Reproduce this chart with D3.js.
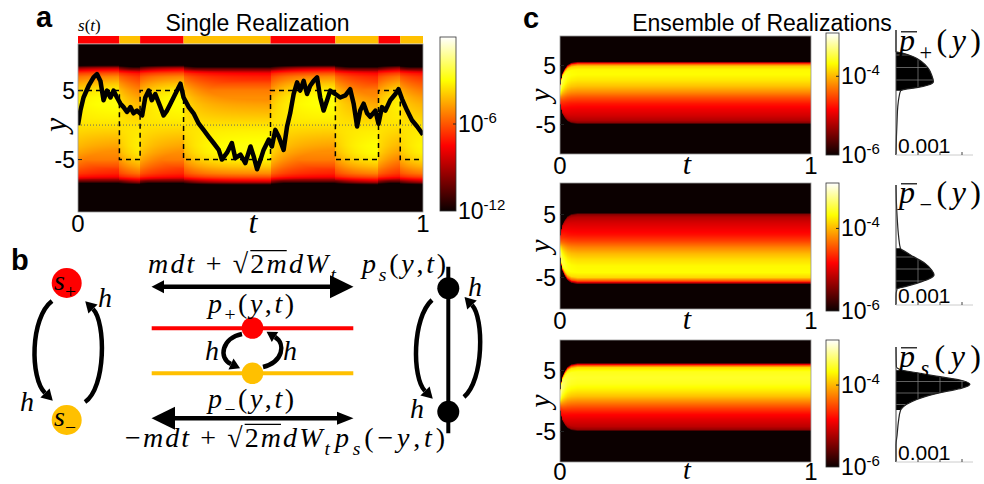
<!DOCTYPE html>
<html>
<head>
<meta charset="utf-8">
<script src="https://cdn.jsdelivr.net/npm/d3@7"></script>
<style>
  body { margin: 0; background: #fff; }
  text { font-family: "Liberation Sans", Arial, sans-serif; fill: #000; }
  .math { font-family: "Liberation Serif", "DejaVu Serif", serif; font-style: italic; }
</style>
</head>
<body>
<svg id="fig" width="984" height="484"></svg>
<script>
// ---------------- panel a : single realization ----------------
var switchT = [0, 0.12, 0.18, 0.306, 0.558, 0.746, 0.871, 0.934, 1];
var switchLevel = [5, -5, 5, -5, 5, -5, 5, -5];
var trajT = [0, 0.007, 0.016, 0.031, 0.045, 0.055, 0.065, 0.074, 0.084, 0.094,
  0.103, 0.113, 0.123, 0.132, 0.142, 0.152, 0.161, 0.171, 0.186, 0.195,
  0.205, 0.214, 0.224, 0.239, 0.248, 0.258, 0.268, 0.282, 0.297, 0.306,
  0.321, 0.335, 0.350, 0.364, 0.379, 0.393, 0.408, 0.417, 0.432, 0.446,
  0.456, 0.471, 0.485, 0.500, 0.509, 0.519, 0.529, 0.538, 0.553, 0.562,
  0.572, 0.582, 0.596, 0.606, 0.615, 0.625, 0.635, 0.644, 0.654, 0.664,
  0.673, 0.683, 0.693, 0.702, 0.712, 0.722, 0.731, 0.746, 0.760, 0.775,
  0.789, 0.799, 0.809, 0.818, 0.828, 0.838, 0.847, 0.862, 0.871, 0.881,
  0.891, 0.905, 0.920, 0.929, 0.939, 0.954, 0.968, 0.983, 1];
var trajY = [0, 2.1, 4.0, 5.7, 6.9, 7.4, 6.4, 3.6, 5.0, 4.0,
  5.0, 4.0, 3.1, 2.6, 1.9, 2.6, 1.7, 2.1, 1.4, 4.0,
  5.0, 3.6, 4.5, 2.6, 1.4, 2.1, 3.1, 4.5, 6.0, 4.0,
  2.6, 1.7, 0.2, -0.7, -1.7, -2.6, -3.6, -5.0, -4.0, -2.6,
  -4.8, -4.3, -5.5, -3.1, -4.5, -6.4, -5.0, -3.6, -2.1, -3.1,
  -0.7, -1.7, -3.6, -0.2, 1.7, 4.5, 6.2, 5.0, 6.4, 4.5,
  5.7, 6.4, 6.9, 4.0, 2.1, 3.6, 5.0, 4.5, 4.0, 4.3,
  5.2, 3.1, -0.2, 2.1, 3.1, 1.7, 1.2, 2.1, 0.2, 2.6,
  2.1, 3.6, 4.5, 5.2, 3.8, 2.1, 0.7, -0.2, -1.4];
// log10 density profile in the s+ state (the s- state is its mirror image)
var bandY = [-12.6, -8.5, -8.1, -7.8, -7.5, -7, -6, -5, -4, -3, -2, -1, 0,
  1, 2, 3, 4, 5, 6, 7, 7.5, 8.0, 8.3, 8.6, 9, 11.75];
var bandLog = [-14, -13, -11.5, -8.8, -7.6, -7.0, -6.4, -5.8, -5.2, -4.7, -4.3, -3.9, -3.5,
  -3.2, -3.0, -2.8, -2.8, -3.1, -3.9, -5.0, -6.0, -7.4, -8.8, -11.5, -13, -14];
var yTicksA = [-5, 5];
var cbarTicksA = [-12, -6];

// ---------------- panel c : ensemble ----------------
var plusY = [-10, -5.4, -5.0, -4.7, -4.3, -3.5, -2.5, -1.5, -0.5, 0.5, 1.5, 2.5, 3.5, 4.3, 4.9, 5.3, 5.6, 5.9, 10];
var plusLog = [-8, -7.5, -6.05, -5.4, -5.2, -5.05, -4.92, -4.75, -4.5, -4.2, -3.95, -3.78, -3.68, -3.7, -3.9, -4.5, -5.6, -7, -8];
var minusY = [-10, -6.3, -6.0, -5.6, -5.0, -4.2, -3.2, -2.2, -1.2, -0.2, 0.8, 1.8, 2.8, 3.8, 4.6, 5.0, 5.3, 5.7, 10];
var minusLog = [-8, -7, -5.6, -4.5, -3.85, -3.68, -3.7, -3.82, -4.0, -4.25, -4.55, -4.78, -4.92, -5.05, -5.2, -5.4, -6.05, -7.5, -8];
var statY = [-10, -5.4, -5.0, -4.7, -4.2, -3.2, -2.2, -1.2, -0.2, 0.8, 1.8, 2.8, 3.8, 4.8, 5.5, 5.9, 6.2, 6.5, 10];
var statLog = [-8, -7.5, -6.05, -5.35, -5.15, -5.0, -4.82, -4.55, -4.25, -3.95, -3.75, -3.6, -3.55, -3.6, -3.85, -4.6, -5.8, -7, -8];
var spreadT = [0, 0.004, 0.01, 0.02, 0.03, 0.045, 0.07, 1];
var spreadS = [0.2, 0.45, 0.65, 0.8, 0.9, 0.97, 1, 1];
var yTicksC = [-5, 5];
var cbarTicksC = [-6, -4];

// stationary marginals (units of 0.001)
var sidePlusY = [-10, -7.07, -4.4, -2.27, -0.67, 0.29, 0.51, 0.77, 1.2, 1.73, 2.8, 3.87, 4.93, 5.73, 6.27, 6.53, 10];
var sidePlusV = [0, 0.02, 0.05, 0.08, 0.14, 0.21, 0.41, 0.94, 1.47, 1.7, 1.62, 1.47, 1.17, 0.79, 0.33, 0, 0];
var sideMinusY = [-10, -8.6, -7.28, -6.94, -6.39, -5.72, -5, -4.17, -3.06, -1.94, -1.1, -0.55, 1.39, 4.17, 6.95, 10];
var sideMinusV = [0, 0, 0.05, 0.41, 0.94, 1.47, 1.73, 1.62, 1.32, 0.79, 0.41, 0.2, 0.12, 0.06, 0.02, 0];
var sideStatY = [-10, -7.04, -5.3, -2.99, -0.96, -0.38, 0.49, 1.36, 2.23, 2.82, 3.51, 4.26, 4.84, 5.43, 6.0, 6.57, 10];
var sideStatV = [0, 0, 0.05, 0.11, 0.21, 0.33, 0.71, 1.32, 2.23, 2.99, 3.36, 2.91, 2.0, 1.09, 0.26, 0.02, 0];
var sideFill = [[0.29, 6.53], [-7.28, -0.55], [-0.96, 6.0]];
var sideTicks = [1, 2, 3];

var RED = "#ff0000", YEL = "#ffc000";
var svg = d3.select("#fig");

function hot(lo, hi) {
  var r = hi - lo;
  return d3.scaleLinear()
    .domain([lo, lo + r * 0.375, lo + r * 0.75, hi])
    .range(["#0b0000", "#ff0000", "#ffff00", "#ffffff"])
    .clamp(true);
}

// paints value(t, y) into an image covering the scales' range
function heatmap(g, x, y, value, color) {
  var x0 = x.range()[0], y0 = y.range()[1];
  var w = Math.round(x.range()[1] - x0), h = Math.round(y.range()[0] - y0);
  var canvas = document.createElement("canvas");
  canvas.width = w; canvas.height = h;
  var ctx = canvas.getContext("2d");
  var img = ctx.createImageData(w, h);
  for (var i = 0; i < w; i++) {
    var t = x.invert(x0 + i + 0.5);
    for (var j = 0; j < h; j++) {
      var c = d3.rgb(color(value(t, y.invert(y0 + j + 0.5))));
      var k = (j * w + i) * 4;
      img.data[k] = c.r; img.data[k + 1] = c.g; img.data[k + 2] = c.b; img.data[k + 3] = 255;
    }
  }
  ctx.putImageData(img, 0, 0);
  g.append("image").attr("x", x0).attr("y", y0).attr("width", w).attr("height", h)
    .attr("preserveAspectRatio", "none").attr("href", canvas.toDataURL());
}

// scale: value -> pixel (range [bottom, top])
function colorbar(id, x, w, scale, color, ticks, labelDy) {
  var dom = color.domain();
  var grad = svg.append("defs").append("linearGradient").attr("id", id)
    .attr("x1", 0).attr("y1", 1).attr("x2", 0).attr("y2", 0);
  dom.forEach(function (d, i) {
    grad.append("stop").attr("offset", (d - dom[0]) / (dom[dom.length - 1] - dom[0]))
      .attr("stop-color", color.range()[i]);
  });
  var r = scale.range();
  svg.append("rect").attr("x", x).attr("y", r[1]).attr("width", w).attr("height", r[0] - r[1])
    .attr("fill", "url(#" + id + ")").attr("stroke", "#333").attr("stroke-width", 0.8);
  ticks.forEach(function (v) {
    var yy = scale(v);
    if (v !== scale.domain()[0]) {
      svg.append("line").attr("x1", x + w - 3).attr("x2", x + w).attr("y1", yy).attr("y2", yy)
        .attr("stroke", "#222");
    }
    var t = svg.append("text").attr("x", x + w + 2).attr("y", yy + labelDy).attr("font-size", 23);
    t.append("tspan").text("10");
    t.append("tspan").text("-" + (-v)).attr("font-size", 15).attr("dy", -9);
  });
}

function mathText(g, x, y, size, parts, len) {
  var txt = g.append("text").attr("class", "math").attr("x", x).attr("y", y).attr("font-size", size);
  var shift = 0;
  parts.forEach(function (p) {
    var target = p.sub ? size * 0.28 : 0;
    var ts = txt.append("tspan").text(p.t).attr("dy", target - shift);
    if (p.sub) ts.attr("font-size", size * 0.7);
    if (p.up) ts.style("font-style", "normal");
    shift = target;
  });
  if (len) txt.attr("textLength", len).attr("lengthAdjust", "spacing");
  return txt;
}

function overbar(txt, i0, i1, rise, size, dx) {
  var n = txt.node();
  var a = n.getStartPositionOfChar(i0), b = n.getEndPositionOfChar(i1);
  svg.append("line").attr("x1", a.x + (dx || 0)).attr("x2", b.x + (dx || 0))
    .attr("y1", a.y - rise * size).attr("y2", a.y - rise * size)
    .attr("stroke", "#000").attr("stroke-width", 1.2);
}

// ================= panel a =================
var xA = d3.scaleLinear().domain([0, 1]).range([78, 423]);
var yA = d3.scaleLinear().domain([-12.6, 11.75]).range([212, 44]);
var colA = hot(-12, 0);
var profA = d3.scaleLinear().domain(bandY).range(bandLog).clamp(true);

// weight of the s+ profile, relaxing after each switch
var tauA = 0.06, jumpA = 0.35, segW0 = [], wPrev = 0.75;
for (var k = 0; k < switchLevel.length; k++) {
  var target = switchLevel[k] > 0 ? 1 : 0;
  var w0 = k === 0 ? wPrev : wPrev + jumpA * (target - wPrev);
  segW0.push(w0);
  wPrev = target + (w0 - target) * Math.exp(-(switchT[k + 1] - switchT[k]) / tauA);
}
function weightAt(t) {
  var k = Math.min(switchLevel.length - 1, Math.max(0, d3.bisectRight(switchT, t) - 1));
  var target = switchLevel[k] > 0 ? 1 : 0;
  return target + (segW0[k] - target) * Math.exp(-(t - switchT[k]) / tauA);
}

var gA = svg.append("g");
svg.append("clipPath").attr("id", "clipA").append("rect")
  .attr("x", 78).attr("y", 44).attr("width", 345).attr("height", 168);
heatmap(gA, xA, yA, function (t, y) {
  var w = weightAt(t);
  var up = profA(y), down = profA(-y);
  // blend in log space, keeping the band edge of the brighter state
  var mix = w * up + (1 - w) * down;
  return Math.max(mix, Math.max(up, down) - 2.2);
}, colA);

var plotA = gA.append("g").attr("clip-path", "url(#clipA)");
plotA.append("line").attr("x1", xA(0)).attr("x2", xA(1)).attr("y1", yA(0)).attr("y2", yA(0))
  .attr("stroke", "#666").attr("stroke-width", 1).attr("stroke-dasharray", "1,2");

var stepData = switchLevel.map(function (v, i) { return [switchT[i], v]; });
stepData.push([1, switchLevel[switchLevel.length - 1]]);
plotA.append("path").datum(stepData)
  .attr("d", d3.line().x(function (d) { return xA(d[0]); }).y(function (d) { return yA(d[1]); })
    .curve(d3.curveStepAfter))
  .attr("fill", "none").attr("stroke", "#000").attr("stroke-width", 1.5).attr("stroke-dasharray", "5,4");

plotA.append("path").datum(d3.zip(trajT, trajY))
  .attr("d", d3.line().x(function (d) { return xA(d[0]); }).y(function (d) { return yA(d[1]); }))
  .attr("fill", "none").attr("stroke", "#000").attr("stroke-width", 4.5).attr("stroke-linejoin", "round");

gA.append("rect").attr("x", 78).attr("y", 44).attr("width", 345).attr("height", 168)
  .attr("fill", "none").attr("stroke", "#999").attr("stroke-width", 0.8);

// s(t) strip
gA.selectAll(".seg").data(switchLevel).enter().append("rect")
  .attr("x", function (d, i) { return xA(switchT[i]); })
  .attr("width", function (d, i) { return xA(switchT[i + 1]) - xA(switchT[i]); })
  .attr("y", 36).attr("height", 7.5)
  .attr("fill", function (d) { return d > 0 ? RED : YEL; });

yTicksA.forEach(function (v) {
  gA.append("line").attr("x1", 78).attr("x2", 82).attr("y1", yA(v)).attr("y2", yA(v)).attr("stroke", "#222");
  gA.append("text").attr("x", 75).attr("y", yA(v) + 8).attr("text-anchor", "end")
    .attr("font-size", 23).text(v);
});
[0, 1].forEach(function (v) {
  gA.append("text").attr("x", xA(v)).attr("y", 232).attr("text-anchor", "middle")
    .attr("font-size", 24).text(v);
});
mathText(gA, 253, 233, 32, [{ t: "t" }]).attr("text-anchor", "middle");
mathText(gA, 0, 0, 32, [{ t: "y" }]).attr("transform", "translate(66,125) rotate(-90)")
  .attr("text-anchor", "middle");
mathText(gA, 78, 31, 17, [{ t: "s" }, { t: "(", up: 1 }, { t: "t" }, { t: ")", up: 1 }]);
svg.append("text").attr("x", 257.5).attr("y", 31).attr("text-anchor", "middle")
  .attr("font-size", 23).text("Single Realization");
svg.append("text").attr("x", 36).attr("y", 27).attr("font-size", 29).attr("font-weight", "bold").text("a");

var cbA = d3.scaleLinear().domain([-12, 0]).range([211, 37]);
colorbar("gradA", 440, 16, cbA, colA, cbarTicksA, 8);

// ================= panel b =================
var gB = svg.append("g");
svg.append("text").attr("x", 11).attr("y", 270).attr("font-size", 29).attr("font-weight", "bold").text("b");

function arrowHead(g, base, dir, len, half) {
  var n = Math.hypot(dir[0], dir[1]), ux = dir[0] / n, uy = dir[1] / n;
  var tip = [base[0] + ux * len, base[1] + uy * len];
  g.append("path").attr("d", "M" + tip + "L" + [base[0] - uy * half, base[1] + ux * half] +
    "L" + [base[0] + uy * half, base[1] - ux * half] + "Z").attr("fill", "#000");
}
function curvedArrow(g, p0, c1, c2, p3, lw, len, half) {
  g.append("path").attr("d", "M" + p0 + "C" + c1 + " " + c2 + " " + p3)
    .attr("fill", "none").attr("stroke", "#000").attr("stroke-width", lw);
  arrowHead(g, p3, [p3[0] - c2[0], p3[1] - c2[1]], len, half);
}

// left: two-state chain
curvedArrow(gB, [52, 301], [30, 318], [30, 378], [45, 393], 4.5, 11, 6.5);
curvedArrow(gB, [85, 402], [106, 388], [106, 322], [93, 309], 4.5, 11, 6.5);
gB.append("circle").attr("cx", 66.7).attr("cy", 283).attr("r", 15).attr("fill", RED);
gB.append("circle").attr("cx", 66.7).attr("cy", 420).attr("r", 15).attr("fill", YEL);
mathText(gB, 54, 290, 28, [{ t: "s" }, { t: "+", sub: 1, up: 1 }]);
mathText(gB, 54, 426, 28, [{ t: "s" }, { t: "\u2212", sub: 1, up: 1 }]);
mathText(gB, 98, 307, 28, [{ t: "h" }]);
mathText(gB, 20, 411, 28, [{ t: "h" }]);

// middle: drift/diffusion on two lines
gB.append("line").attr("x1", 160).attr("x2", 333).attr("y1", 286.7).attr("y2", 286.7)
  .attr("stroke", "#000").attr("stroke-width", 4.5);
arrowHead(gB, [164, 286.7], [-1, 0], 12.5, 6.5);
arrowHead(gB, [330, 286.7], [1, 0], 23.5, 11.5);
gB.append("line").attr("x1", 170).attr("x2", 344).attr("y1", 418.3).attr("y2", 418.3)
  .attr("stroke", "#000").attr("stroke-width", 4.5);
arrowHead(gB, [175, 418.3], [-1, 0], 23.5, 11.5);
arrowHead(gB, [337, 418.3], [1, 0], 16.5, 6.5);

gB.append("line").attr("x1", 151.7).attr("x2", 353.3).attr("y1", 328.3).attr("y2", 328.3)
  .attr("stroke", RED).attr("stroke-width", 4);
gB.append("line").attr("x1", 151.7).attr("x2", 353.3).attr("y1", 373.3).attr("y2", 373.3)
  .attr("stroke", YEL).attr("stroke-width", 4);
curvedArrow(gB, [242, 334], [222, 338], [218, 358], [231, 364], 4.5, 10, 6);
curvedArrow(gB, [263, 367], [283, 362], [286, 344], [275, 337], 4.5, 10, 6);
gB.append("circle").attr("cx", 252.5).attr("cy", 328).attr("r", 10.8).attr("fill", RED);
gB.append("circle").attr("cx", 252.5).attr("cy", 373.3).attr("r", 10.8).attr("fill", YEL);
mathText(gB, 205, 360, 28, [{ t: "h" }]);
mathText(gB, 283, 360, 28, [{ t: "h" }]);

var eqTop = mathText(gB, 148, 273, 28, [{ t: "mdt " }, { t: "+ \u221A2", up: 1 }, { t: "mdW" }, { t: "t", sub: 1 }], 188);
overbar(eqTop, 7, 8, 0.8, 28);
mathText(gB, 208, 313, 28, [{ t: "p" }, { t: "+", sub: 1, up: 1 }, { t: "(", up: 1 }, { t: "y" }, { t: ",", up: 1 }, { t: "t" }, { t: ")", up: 1 }], 86);
mathText(gB, 208, 408, 28, [{ t: "p" }, { t: "\u2212", sub: 1, up: 1 }, { t: "(", up: 1 }, { t: "y" }, { t: ",", up: 1 }, { t: "t" }, { t: ")", up: 1 }], 86);
var eqBot = mathText(gB, 125, 446.7, 28, [{ t: "\u2212", up: 1 }, { t: "mdt " }, { t: "+ \u221A2", up: 1 }, { t: "mdW" }, { t: "t", sub: 1 }], 205);
overbar(eqBot, 8, 9, 0.8, 28);
mathText(gB, 335, 446.7, 28, [{ t: "p" }, { t: "s", sub: 1 }, { t: "(\u2212", up: 1 }, { t: "y" }, { t: ",", up: 1 }, { t: "t" }, { t: ")", up: 1 }], 110);
mathText(gB, 362, 273, 28, [{ t: "p" }, { t: "s", sub: 1 }, { t: "(", up: 1 }, { t: "y" }, { t: ",", up: 1 }, { t: "t" }, { t: ")", up: 1 }], 84);

// right: symmetric state on one line
gB.append("line").attr("x1", 448.3).attr("x2", 448.3).attr("y1", 266.7).attr("y2", 433.3)
  .attr("stroke", "#000").attr("stroke-width", 4);
curvedArrow(gB, [432, 300], [412, 318], [412, 378], [425, 391], 4.5, 11, 6.5);
curvedArrow(gB, [464, 397], [484, 380], [484, 318], [472, 305], 4.5, 11, 6.5);
gB.append("circle").attr("cx", 448.3).attr("cy", 288.3).attr("r", 11).attr("fill", "#000");
gB.append("circle").attr("cx", 448.3).attr("cy", 411.7).attr("r", 11).attr("fill", "#000");
mathText(gB, 468, 296, 28, [{ t: "h" }]);
mathText(gB, 410, 418, 28, [{ t: "h" }]);

// ================= panel c =================
svg.append("text").attr("x", 523).attr("y", 28).attr("font-size", 29).attr("font-weight", "bold").text("c");
svg.append("text").attr("x", 762).attr("y", 31).attr("text-anchor", "middle")
  .attr("font-size", 23).text("Ensemble of Realizations");

var xC = d3.scaleLinear().domain([0, 1]).range([560, 811]);
var colC = hot(-6, -2.9);
var spread = d3.scaleLinear().domain(spreadT).range(spreadS).clamp(true);
var xs = d3.scaleLinear().domain([0, 3.5]).range([896, 973]);

var rowsC = [
  { top: 36, bot: 154, lab: 20, cb: [33, 155], side: [30, 155], py: plusY, pl: plusLog, sy: sidePlusY, sv: sidePlusV, sub: "+", name: 51 },
  { top: 183, bot: 309, lab: 20, cb: [183, 311], side: [185, 305], py: minusY, pl: minusLog, sy: sideMinusY, sv: sideMinusV, sub: "\u2212", name: 203 },
  { top: 340, bot: 462, lab: 18, cb: [340, 467], side: [347, 462], py: statY, pl: statLog, sy: sideStatY, sv: sideStatV, sub: "s", name: 367 }
];

rowsC.forEach(function (r, ri) {
  var g = svg.append("g");
  var y = d3.scaleLinear().domain([-10, 10]).range([r.bot, r.top]);
  var prof = d3.scaleLinear().domain(r.py).range(r.pl).clamp(true);
  heatmap(g, xC, y, function (t, yy) {
    var s = spread(t);
    return prof(yy / s) + (1 - s) * 0.6;
  }, colC);
  g.append("rect").attr("x", 560).attr("y", r.top).attr("width", 251).attr("height", r.bot - r.top)
    .attr("fill", "none").attr("stroke", "#999").attr("stroke-width", 0.8);
  yTicksC.forEach(function (v) {
    g.append("line").attr("x1", 560).attr("x2", 564).attr("y1", y(v)).attr("y2", y(v)).attr("stroke", "#222");
    g.append("text").attr("x", 556).attr("y", y(v) + 8).attr("text-anchor", "end")
      .attr("font-size", 23).text(v);
  });
  [0, 1].forEach(function (v) {
    g.append("text").attr("x", xC(v)).attr("y", r.bot + r.lab).attr("text-anchor", "middle")
      .attr("font-size", 24).text(v);
  });
  mathText(g, 687, r.bot + r.lab - (ri === 2 ? 1 : 0), ri === 2 ? 28 : 30, [{ t: "t" }]).attr("text-anchor", "middle");
  mathText(g, 0, 0, 30, [{ t: "y" }]).attr("transform", "translate(550," + y(0) + ") rotate(-90)")
    .attr("text-anchor", "middle");

  var cb = d3.scaleLinear().domain([-6, -2.9]).range([r.cb[1], r.cb[0]]);
  colorbar("gradC" + ri, 826, 13, cb, colC, cbarTicksC, 8);

  // stationary marginal
  var ys = d3.scaleLinear().domain([-10, 10]).range([r.side[1], r.side[0]]);
  var pts = d3.zip(r.sy, r.sv);
  var fillPts = pts.filter(function (d) { return d[0] >= sideFill[ri][0] && d[0] <= sideFill[ri][1]; });
  var area = d3.area().curve(d3.curveMonotoneY)
    .y(function (d) { return ys(d[0]); }).x0(xs(0)).x1(function (d) { return xs(d[1]); });
  var clipId = "side" + ri;
  svg.append("clipPath").attr("id", clipId).append("path").attr("d", area(fillPts));
  g.append("path").attr("d", area(fillPts)).attr("fill", "#000");
  var grid = g.append("g").attr("clip-path", "url(#" + clipId + ")");
  sideTicks.forEach(function (v) {
    grid.append("line").attr("x1", xs(v)).attr("x2", xs(v)).attr("y1", r.side[0]).attr("y2", r.side[1])
      .attr("stroke", "#888").attr("stroke-width", 0.7);
  });
  d3.range(-10, 11, 2).forEach(function (v) {
    grid.append("line").attr("x1", xs(0)).attr("x2", xs(3.5)).attr("y1", ys(v)).attr("y2", ys(v))
      .attr("stroke", "#888").attr("stroke-width", 0.7);
  });
  g.append("path").datum(pts)
    .attr("d", d3.line().curve(d3.curveMonotoneY).y(function (d) { return ys(d[0]); }).x(function (d) { return xs(d[1]); }))
    .attr("fill", "none").attr("stroke", "#222").attr("stroke-width", 1.2);
  g.append("line").attr("x1", xs(0)).attr("x2", xs(0)).attr("y1", r.side[0]).attr("y2", r.side[1])
    .attr("stroke", "#444").attr("stroke-width", 1);
  g.append("line").attr("x1", xs(0)).attr("x2", xs(3.5)).attr("y1", r.side[1]).attr("y2", r.side[1])
    .attr("stroke", "#ccc").attr("stroke-width", 1);
  sideTicks.forEach(function (v) {
    g.append("line").attr("x1", xs(v)).attr("x2", xs(v)).attr("y1", r.side[1]).attr("y2", r.side[1] - 3)
      .attr("stroke", "#444");
  });
  g.append("text").attr("x", 898).attr("y", r.side[1] - 2).attr("font-size", 21).text("0.001");
  var lab = mathText(g, 899, r.name, 32, [{ t: "p" }, { t: r.sub, sub: 1, up: r.sub !== "s" }, { t: "(", up: 1 }, { t: "y" }, { t: ")", up: 1 }], 82);
  overbar(lab, 0, 0, 0.6, 32, 2);
});
</script>
</body>
</html>
